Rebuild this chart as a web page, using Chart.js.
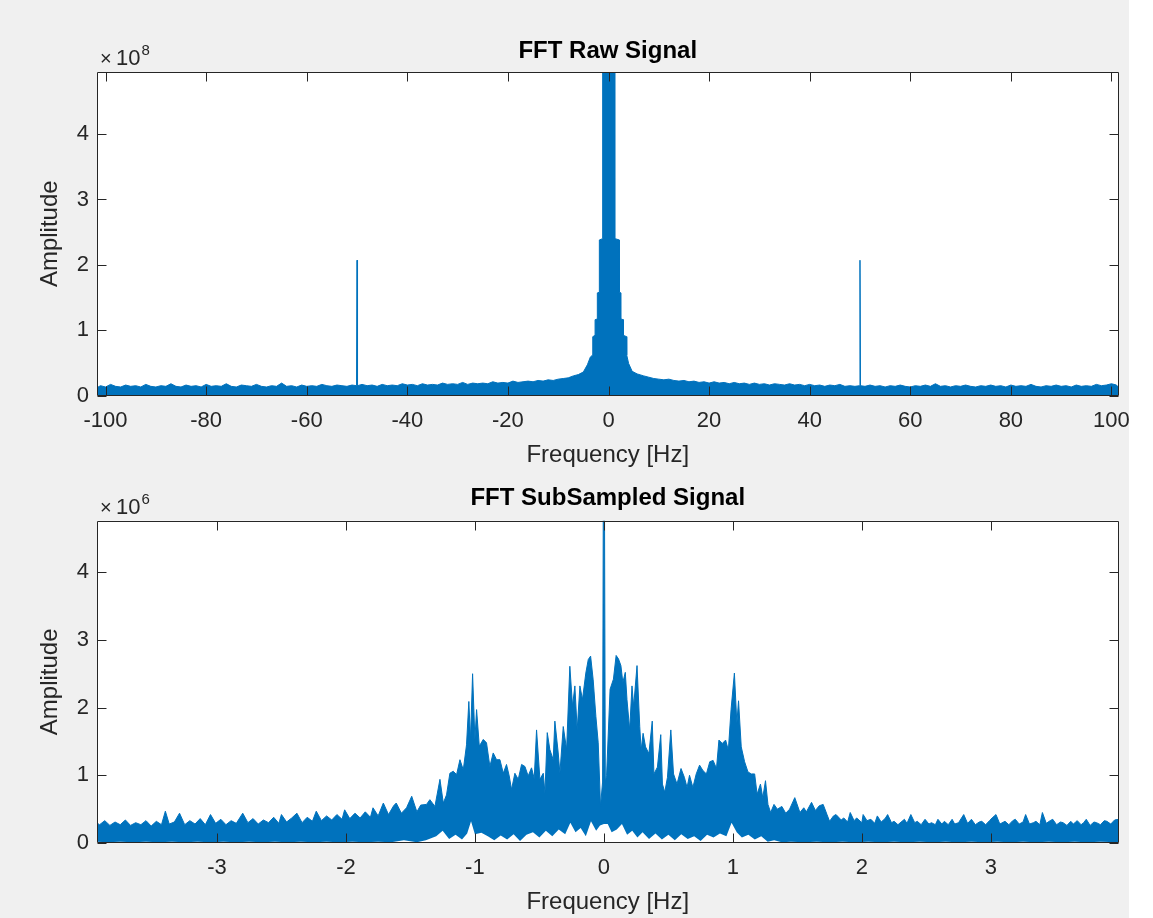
<!DOCTYPE html>
<html>
<head>
<meta charset="utf-8">
<script src="https://cdn.jsdelivr.net/npm/chart.js@4.4.1/dist/chart.umd.min.js"></script>
<style>
html, body { margin: 0; padding: 0; background: #ffffff; }
#page { position: relative; width: 1129px; height: 918px; background: #f0f0f0; }
canvas { position: absolute; left: 0; }
#rawChart { top: 0; }
#subChart { top: 470px; }
</style>
</head>
<body>
<div id="page">
  <canvas id="rawChart" width="1153" height="480"></canvas>
  <canvas id="subChart" width="1153" height="448"></canvas>
</div>
<script>
// FFT of the raw signal: frequency [Hz] and upper envelope of |X| in units of 1e8
let rawFreq = [
  -101.7, -101, -100, -99, -98, -97, -96, -95, -94, -93,
  -92, -91, -90, -89, -88, -87, -86, -85, -84, -83,
  -82, -81, -80, -79, -78, -77, -76, -75, -74, -73,
  -72, -71, -70, -69, -68, -67, -66, -65, -64, -63,
  -62, -61, -60, -59, -58, -57, -56, -55, -54, -53,
  -52, -51, -50.1, -50, -49.9, -49, -48, -47, -46, -45,
  -44, -43, -42, -41, -40, -39, -38, -37, -36, -35,
  -34, -33, -32, -31, -30, -29, -28, -27, -26, -25,
  -24, -23, -22, -21, -20, -19, -18, -17, -16, -15,
  -14, -13, -12, -11, -10, -9, -8, -7, -6, -5,
  -4.2, -3.6, -3.14, -3.13, -2.68, -2.67, -2.23, -2.22, -1.83, -1.82,
  -1.17, -1.16, 1.29, 1.30, 2.15, 2.16, 2.48, 2.49, 2.95, 2.96,
  3.6, 3.62, 4, 4.7, 5.7, 7, 8, 9, 10, 11,
  12, 13, 14, 15, 16, 17, 18, 19, 20, 21,
  22, 23, 24, 25, 26, 27, 28, 29, 30, 31,
  32, 33, 34, 35, 36, 37, 38, 39, 40, 41,
  42, 43, 44, 45, 46, 47, 48, 49, 49.9, 50,
  50.1, 51, 52, 53, 54, 55, 56, 57, 58, 59,
  60, 61, 62, 63, 64, 65, 66, 67, 68, 69,
  70, 71, 72, 73, 74, 75, 76, 77, 78, 79,
  80, 81, 82, 83, 84, 85, 86, 87, 88, 89,
  90, 91, 92, 93, 94, 95, 96, 97, 98, 99,
  100, 101, 101.4
];
let rawAmp = [
  .12, .15, .13, .17, .14, .13, .16, .14, .15, .13,
  .17, .14, .13, .15, .14, .18, .14, .13, .16, .14,
  .15, .13, .17, .14, .15, .14, .18, .14, .13, .16,
  .15, .14, .17, .14, .13, .15, .14, .19, .14, .15,
  .13, .16, .14, .15, .14, .17, .15, .14, .16, .15,
  .14, .16, .15, 2.07, .15, .17, .15, .16, .14, .17,
  .15, .16, .15, .18, .16, .17, .15, .18, .16, .17,
  .16, .19, .17, .18, .17, .20, .17, .19, .18, .19,
  .18, .21, .19, .20, .19, .22, .20, .21, .22, .21,
  .23, .22, .24, .23, .25, .26, .27, .30, .32, .36,
  .47, .59, .62, .90, .92, 1.16, 1.17, 1.57, 1.58, 2.38,
  2.40, 6.0, 6.0, 2.40, 2.38, 1.58, 1.57, 1.17, 1.16, .92,
  .90, .62, .49, .37, .33, .30, .28, .26, .25, .24,
  .25, .23, .22, .23, .21, .22, .20, .21, .19, .21,
  .19, .20, .18, .20, .18, .19, .17, .19, .17, .18,
  .16, .18, .17, .16, .18, .16, .17, .15, .17, .15,
  .16, .14, .16, .15, .17, .14, .15, .14, .15, 2.07,
  .15, .14, .16, .14, .15, .13, .15, .14, .16, .14,
  .13, .15, .14, .16, .14, .18, .14, .15, .13, .15,
  .14, .16, .14, .13, .15, .14, .16, .14, .15, .13,
  .16, .14, .15, .14, .17, .14, .13, .15, .14, .16,
  .14, .15, .13, .16, .14, .15, .14, .17, .15, .16,
  .18, .16, .12
];
let rawTicksX = [-100, -80, -60, -40, -20, 0, 20, 40, 60, 80, 100];
let rawTicksY = [0, 1, 2, 3, 4];

// FFT of the subsampled signal: frequency [Hz], upper envelope in units of 1e6
let subFreq = [
  -3.95, -3.91, -3.87, -3.83, -3.79, -3.75, -3.71, -3.67, -3.63, -3.59,
  -3.55, -3.51, -3.47, -3.43, -3.40, -3.37, -3.33, -3.29, -3.25, -3.21,
  -3.17, -3.13, -3.09, -3.05, -3.01, -2.97, -2.93, -2.89, -2.85, -2.80,
  -2.76, -2.72, -2.68, -2.64, -2.60, -2.56, -2.52, -2.50, -2.46, -2.42,
  -2.38, -2.34, -2.30, -2.26, -2.23, -2.19, -2.15, -2.11, -2.07, -2.03,
  -2.01, -1.97, -1.93, -1.89, -1.85, -1.81, -1.79, -1.75, -1.71, -1.67,
  -1.63, -1.61, -1.57, -1.53, -1.49, -1.45, -1.42, -1.375, -1.349, -1.310,
  -1.271, -1.245, -1.220, -1.194, -1.168, -1.142, -1.116, -1.090, -1.065, -1.047,
  -1.034, -1.018, -1.000, -0.987, -0.966, -0.935, -0.910, -0.884, -0.858, -0.832,
  -0.806, -0.780, -0.755, -0.734, -0.716, -0.690, -0.664, -0.638, -0.612, -0.587,
  -0.561, -0.540, -0.522, -0.496, -0.470, -0.457, -0.439, -0.419, -0.393, -0.380,
  -0.354, -0.341, -0.315, -0.289, -0.264, -0.243, -0.225, -0.207, -0.186, -0.166,
  -0.140, -0.121, -0.103, -0.083, -0.062, -0.044, -0.026, -0.010, -0.004, 0.004,
  0.011, 0.021, 0.048, 0.074, 0.095, 0.113, 0.132, 0.147, 0.166, 0.179,
  0.200, 0.218, 0.231, 0.257, 0.278, 0.289, 0.304, 0.323, 0.349, 0.375,
  0.388, 0.415, 0.441, 0.454, 0.472, 0.493, 0.519, 0.540, 0.567, 0.598,
  0.624, 0.645, 0.664, 0.690, 0.716, 0.742, 0.768, 0.795, 0.821, 0.847,
  0.873, 0.892, 0.918, 0.944, 0.965, 0.986, 1.012, 1.031, 1.044, 1.065,
  1.091, 1.117, 1.143, 1.169, 1.188, 1.214, 1.232, 1.253, 1.272, 1.293,
  1.319, 1.345, 1.38, 1.41, 1.44, 1.48, 1.52, 1.55, 1.57, 1.61,
  1.64, 1.67, 1.70, 1.73, 1.75, 1.78, 1.80, 1.84, 1.86, 1.89,
  1.91, 1.94, 1.96, 2.00, 2.01, 2.04, 2.07, 2.10, 2.12, 2.15,
  2.18, 2.20, 2.23, 2.25, 2.28, 2.33, 2.35, 2.38, 2.41, 2.43,
  2.46, 2.49, 2.52, 2.54, 2.57, 2.59, 2.62, 2.64, 2.67, 2.70,
  2.72, 2.75, 2.79, 2.82, 2.85, 2.88, 2.91, 2.93, 2.96, 2.99,
  3.01, 3.04, 3.07, 3.11, 3.14, 3.17, 3.19, 3.22, 3.25, 3.27,
  3.30, 3.33, 3.35, 3.38, 3.40, 3.43, 3.46, 3.48, 3.51, 3.54,
  3.56, 3.59, 3.62, 3.64, 3.67, 3.70, 3.72, 3.74, 3.77, 3.80,
  3.82, 3.85, 3.88, 3.90, 3.93, 3.96, 3.99
];
let subAmp = [
  .32, .27, .33, .26, .31, .27, .34, .26, .30, .27,
  .33, .25, .32, .27, .47, .28, .31, .44, .27, .33,
  .28, .36, .27, .42, .29, .35, .27, .33, .29, .44,
  .30, .36, .28, .34, .30, .38, .29, .42, .31, .37,
  .44, .30, .38, .32, .47, .33, .40, .34, .42, .35,
  .49, .36, .44, .37, .46, .38, .52, .40, .59, .42,
  .55, .59, .44, .52, .69, .46, .56, .57, .64, .54,
  .94, .59, .71, 1.03, 1.06, 1.01, 1.23, 1.08, 1.45, 2.09,
  1.53, 2.50, 1.53, 1.97, 1.43, 1.53, 1.48, 1.13, 1.33, 1.23,
  1.23, 1.03, 1.16, .99, .79, 1.03, .94, 1.16, 1.13, .99,
  1.11, .95, 1.67, .94, 1.03, .74, 1.63, 1.38, 1.23, 1.80,
  1.33, 1.03, 1.72, 1.38, 2.61, 2.02, 2.32, 1.67, 2.32, 2.12,
  2.51, 2.71, 2.76, 2.41, 1.87, 1.48, .54, .90, 5.5, 5.5,
  .90, 1.00, 2.27, 2.42, 2.77, 2.72, 2.62, 2.37, 2.52, 2.12,
  1.67, 2.32, 2.02, 2.62, 1.72, 1.37, 1.62, 1.42, 1.32, 1.80,
  1.02, 1.12, 1.60, .87, .75, .97, 1.67, 1.02, .87, 1.10,
  .97, .82, 1.00, .82, 1.02, 1.15, 1.07, 1.02, 1.20, 1.22,
  1.10, 1.52, 1.47, 1.52, 1.37, 1.97, 2.51, 1.77, 2.10, 1.42,
  1.20, 1.05, 1.02, 1.02, .72, .87, .67, .92, .57, .45,
  .57, .50, .54, .44, .50, .67, .45, .52, .46, .60,
  .48, .55, .57, .42, .32, .40, .42, .34, .37, .31,
  .45, .33, .37, .30, .42, .33, .35, .29, .40, .31,
  .36, .42, .30, .32, .27, .35, .29, .42, .30, .32,
  .27, .35, .28, .30, .27, .35, .28, .32, .27, .35,
  .28, .30, .42, .29, .35, .27, .31, .32, .27, .33,
  .37, .42, .28, .32, .27, .33, .35, .28, .31, .42,
  .28, .30, .32, .27, .45, .29, .33, .35, .27, .31,
  .30, .26, .32, .28, .33, .27, .30, .35, .26, .31,
  .30, .27, .33, .32, .28, .34, .35
];
// lower envelope of the subsampled spectrum (units of 1e6)
let subLowFreq = [
  -3.95, -3.85, -3.75, -3.65, -3.55, -3.45, -3.35, -3.25, -3.15, -3.05,
  -2.95, -2.85, -2.75, -2.65, -2.55, -2.45, -2.35, -2.25, -2.15, -2.05,
  -1.95, -1.85, -1.75, -1.65, -1.55, -1.45, -1.38, -1.30, -1.25, -1.20,
  -1.15, -1.10, -1.06, -1.03, -1.00, -0.95, -0.90, -0.85, -0.80, -0.75,
  -0.70, -0.65, -0.60, -0.55, -0.50, -0.45, -0.40, -0.35, -0.30, -0.26,
  -0.22, -0.18, -0.14, -0.10, -0.06, -0.03, 0.00, 0.03, 0.06, 0.10,
  0.14, 0.18, 0.22, 0.26, 0.30, 0.35, 0.40, 0.45, 0.50, 0.55,
  0.60, 0.65, 0.70, 0.75, 0.80, 0.85, 0.90, 0.95, 0.99, 1.03,
  1.07, 1.12, 1.17, 1.22, 1.27, 1.32, 1.38, 1.45, 1.55, 1.65,
  1.75, 1.85, 1.95, 2.05, 2.15, 2.25, 2.35, 2.45, 2.55, 2.65,
  2.75, 2.85, 2.95, 3.05, 3.15, 3.25, 3.35, 3.45, 3.55, 3.65,
  3.75, 3.85, 3.99
];
let subLow = [
  .02, .01, .02, .01, .02, .01, .02, .01, .02, .01,
  .02, .01, .02, .01, .02, .01, .02, .01, .02, .01,
  .02, .01, .02, .01, .04, .01, .04, .10, .18, .06,
  .12, .05, .14, .32, .13, .15, .10, .04, .11, .05,
  .13, .03, .12, .16, .08, .18, .10, .20, .13, .30,
  .16, .22, .10, .32, .18, .26, .28, .28, .16, .20,
  .28, .12, .18, .08, .16, .06, .14, .05, .12, .04,
  .13, .06, .10, .03, .12, .08, .14, .10, .30, .16,
  .08, .12, .05, .10, .02, .04, .01, .02, .01, .02,
  .01, .02, .01, .02, .01, .02, .01, .02, .01, .02,
  .01, .02, .01, .02, .01, .02, .01, .02, .01, .02,
  .01, .02, .01
];
let subTicksX = [-3, -2, -1, 0, 1, 2, 3];
let subTicksY = [0, 1, 2, 3, 4];

let lineBlue = '#0072BD';
let axisGrey = '#262626';
let fontFamily = '"Liberation Sans", Arial, sans-serif';

function toPoints(xs, ys) {
    /* pairs the frequency array with an amplitude array */
    return xs.map(function (x, i) { return { x: x, y: ys[i] }; });
}

// MATLAB style axes: white box, inner ticks on all four sides, bold title, exponent label
let matlabAxes = {
    id: 'matlabAxes',
    beforeDraw: function (chart) {
        let a = chart.chartArea;
        let ctx = chart.ctx;
        ctx.save();
        ctx.fillStyle = '#ffffff';
        ctx.fillRect(a.left, a.top, a.right - a.left, a.bottom - a.top);
        ctx.restore();
    },
    afterDatasetsDraw: function (chart, args, opts) {
        let ctx = chart.ctx;
        let a = chart.chartArea;
        let xs = chart.scales.x;
        let ys = chart.scales.y;
        let l = Math.round(a.left) + 0.5;
        let r = Math.round(a.right) - 0.5;
        let t = Math.round(a.top) + 0.5;
        let b = Math.round(a.bottom) - 0.5;
        ctx.save();
        ctx.strokeStyle = axisGrey;
        ctx.lineWidth = 1;
        ctx.beginPath();
        ctx.rect(l, t, r - l, b - t);
        xs.ticks.forEach(function (tk) {
            let px = Math.round(xs.getPixelForValue(tk.value)) + 0.5;
            ctx.moveTo(px, b); ctx.lineTo(px, b - 9);
            ctx.moveTo(px, t); ctx.lineTo(px, t + 9);
        });
        ys.ticks.forEach(function (tk) {
            let py = Math.round(ys.getPixelForValue(tk.value)) + 0.5;
            ctx.moveTo(l, py); ctx.lineTo(l + 9, py);
            ctx.moveTo(r, py); ctx.lineTo(r - 9, py);
        });
        ctx.stroke();

        ctx.fillStyle = '#000000';
        ctx.font = 'bold 24px ' + fontFamily;
        ctx.textAlign = 'center';
        ctx.textBaseline = 'alphabetic';
        ctx.fillText(opts.title, (a.left + a.right) / 2, opts.titleY);

        ctx.fillStyle = axisGrey;
        ctx.textAlign = 'left';
        ctx.font = '20px ' + fontFamily;
        ctx.fillText('×', a.left + 3, a.top - 7);
        ctx.font = '22px ' + fontFamily;
        ctx.fillText('10', a.left + 19, a.top - 7);
        let w = ctx.measureText('10').width;
        ctx.font = '15px ' + fontFamily;
        ctx.fillText(opts.exponent, a.left + 20 + w, a.top - 17);
        ctx.restore();
    }
};

function makeChart(id, cfg) {
    /* builds one of the two spectrum panels */
    let datasets = [];
    if (cfg.low) {
        datasets.push({
            data: toPoints(cfg.lowFreq, cfg.low),
            borderWidth: 0,
            borderColor: 'rgba(0,0,0,0)',
            backgroundColor: '#ffffff',
            fill: 'origin',
            pointRadius: 0
        });
    }
    datasets.push({
        data: toPoints(cfg.freq, cfg.amp),
        borderColor: lineBlue,
        borderWidth: 1,
        backgroundColor: lineBlue,
        fill: 'origin',
        pointRadius: 0
    });

    return new Chart(document.getElementById(id), {
        type: 'line',
        data: { datasets: datasets },
        plugins: [matlabAxes],
        options: {
            responsive: false,
            animation: false,
            devicePixelRatio: 1,
            events: [],
            layout: { padding: { left: 0, right: 34.5, top: cfg.top, bottom: 0 } },
            elements: { line: { tension: 0 } },
            plugins: {
                legend: { display: false },
                tooltip: { enabled: false },
                matlabAxes: { title: cfg.title, titleY: cfg.titleY, exponent: cfg.exponent }
            },
            scales: {
                x: {
                    type: 'linear',
                    min: cfg.xmin,
                    max: cfg.xmax,
                    grid: { display: false, drawTicks: false },
                    border: { display: false },
                    afterBuildTicks: function (s) { s.ticks = cfg.ticksX.map(function (v) { return { value: v }; }); },
                    afterFit: function (s) { s.height = cfg.xAxisHeight; },
                    ticks: {
                        autoSkip: false, maxRotation: 0, minRotation: 0,
                        padding: 12,
                        color: axisGrey,
                        font: { family: fontFamily, size: 22 },
                        callback: function (v) { return String(v); }
                    },
                    title: {
                        display: true,
                        text: 'Frequency [Hz]',
                        color: axisGrey,
                        font: { family: fontFamily, size: 24 },
                        padding: { top: 0, bottom: cfg.xTitlePad }
                    }
                },
                y: {
                    type: 'linear',
                    min: 0,
                    max: cfg.ymax,
                    grid: { display: false, drawTicks: false },
                    border: { display: false },
                    afterBuildTicks: function (s) { s.ticks = cfg.ticksY.map(function (v) { return { value: v }; }); },
                    afterFit: function (s) { s.width = 97; },
                    ticks: {
                        padding: 8,
                        color: axisGrey,
                        font: { family: fontFamily, size: 22 },
                        callback: function (v) { return String(v); }
                    },
                    title: {
                        display: true,
                        text: 'Amplitude',
                        color: axisGrey,
                        font: { family: fontFamily, size: 24 },
                        padding: { top: 36, bottom: 0 }
                    }
                }
            }
        }
    });
}

makeChart('rawChart', {
    freq: rawFreq, amp: rawAmp,
    ticksX: rawTicksX, ticksY: rawTicksY,
    xmin: -101.7, xmax: 101.4, ymax: 4.95,
    top: 72, xAxisHeight: 84.5, xTitlePad: 10,
    title: 'FFT Raw Signal', titleY: 58, exponent: '8'
});

makeChart('subChart', {
    freq: subFreq, amp: subAmp,
    lowFreq: subLowFreq, low: subLow,
    ticksX: subTicksX, ticksY: subTicksY,
    xmin: -3.93, xmax: 3.99, ymax: 4.76,
    top: 50.7, xAxisHeight: 75, xTitlePad: 1.6,
    title: 'FFT SubSampled Signal', titleY: 35, exponent: '6'
});
</script>
</body>
</html>
